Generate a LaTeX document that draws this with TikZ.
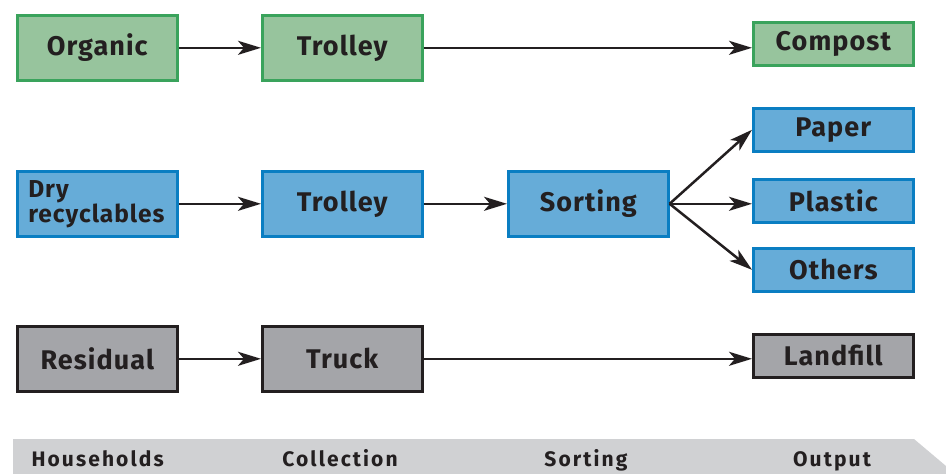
\documentclass[tikz,border=0pt]{standalone}
\usepackage{fontspec}
\setmainfont{Fira Sans}
\newfontfamily\boxfont[LetterSpace=4]{Fira Sans}
\newfontfamily\labfont[LetterSpace=10]{Fira Sans}
\usetikzlibrary{arrows.meta}
\definecolor{gfill}{HTML}{97C49D}
\definecolor{gdraw}{HTML}{3AA35C}
\definecolor{bfill}{HTML}{66ACD8}
\definecolor{bdraw}{HTML}{0A7EC2}
\definecolor{rfill}{HTML}{A4A5A9}
\definecolor{rdraw}{HTML}{231F20}
\definecolor{txt}{HTML}{231F20}
\definecolor{band}{HTML}{D0D1D3}
\begin{document}
\begin{tikzpicture}[x=1pt,y=-1pt,
  box/.style={rectangle, line width=2.6pt, minimum width=160pt, minimum height=65pt, inner sep=0pt,
    font=\boxfont\fontsize{27}{28}\selectfont\bfseries, text=txt, anchor=north west},
  small/.style={box, minimum height=43pt},
  green/.style={fill=gfill, draw=gdraw},
  blue/.style={fill=bfill, draw=bdraw},
  grey/.style={fill=rfill, draw=rdraw},
  conn/.style={line width=2.5pt, draw=txt, -{Stealth[length=23pt, width=14pt, inset=6pt]}},
  lab/.style={font=\labfont\fontsize{21}{22}\selectfont\bfseries, text=txt, anchor=base}]
\useasboundingbox (0,0) rectangle (946,474);
% band
\fill[band] (13,439) -- (914,439) -- (946,466) -- (946,474) -- (13,474) -- cycle;
\node[lab, anchor=base west] (h) at (28,466) {Households};
\node[lab] (c) at (340,466) {Collection};
\node[lab] (s) at (586,466) {Sorting};
\node[lab] (o) at (832,466) {Output};
% row 1
\node[box, green] (org) at (16,14) {Organic};
\node[box, green] (tr1) at (261,14) {Trolley};
\node[small, green] (comp) at (752,21) {Compost};
% row 2
\node[box, blue, align=left, text width=138pt, font=\boxfont\fontsize{24.5}{24}\selectfont\bfseries] (dry) at (16,170) {Dry\\recyclables};
\node[box, blue] (tr2) at (261,170) {Trolley};
\node[box, blue] (sort) at (507,170) {Sorting};
\node[small, blue] (pap) at (752,107) {Paper};
\node[small, blue] (pla) at (752,178) {Plastic};
\node[small, blue] (oth) at (752,247) {Others};
% row 3
\node[box, grey] (res) at (16,325) {Residual};
\node[box, grey] (tru) at (261,325) {Truck};
\node[small, grey] (land) at (752,333) {Land{}fill};
% connectors
\draw[conn] (org.east) -- (tr1.west);
\draw[conn] (tr1.east) -- (tr1.east -| comp.west);
\draw[conn] (dry.east) -- (tr2.west);
\draw[conn] (tr2.east) -- (sort.west);
\draw[conn] (sort.east) -- (pap.west);
\draw[conn] (sort.east) -- (sort.east -| pla.west);
\draw[conn] (sort.east) -- (oth.west);
\draw[conn] (res.east) -- (tru.west);
\draw[conn] (tru.east) -- (tru.east -| land.west);
\end{tikzpicture}
\end{document}
